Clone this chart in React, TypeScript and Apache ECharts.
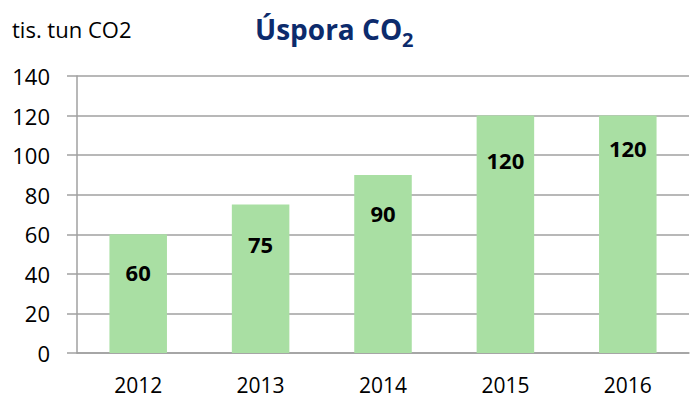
import React, { useEffect, useRef } from "react";
import * as echarts from "echarts";

const categories = ["2012", "2013", "2014", "2015", "2016"];
const savings = [60, 75, 90, 120, 120];
const yTicks = { min: 0, max: 140, interval: 20 };
const titleMain = "Úspora CO";
const titleSub = "2";
const unitLabel = "tis. tun CO2";

// label vertical offsets from bar top (style only)
const labelOffsetsY = [22, 23, 22, 28, 16];

const FONT = "'Open Sans', 'Noto Sans', sans-serif";

export default function App() {
  const ref = useRef<HTMLDivElement>(null);
  useEffect(() => {
    document.body.style.margin = "0";
    if (!ref.current) return;
    const chart = echarts.init(ref.current, undefined, { renderer: "svg" });
    chart.setOption({
      animation: false,
      backgroundColor: "#ffffff",
      grid: { left: 77, right: 1, top: 76, bottom: 47, containLabel: false },
      xAxis: {
        type: "category",
        data: categories,
        axisLine: { show: true, lineStyle: { color: "#a0a0a0", width: 1.5 } },
        axisTick: { show: false },
        axisLabel: { color: "#000", fontFamily: FONT, fontSize: 21, margin: 21 },
        splitLine: { show: false },
      },
      yAxis: {
        type: "value",
        min: yTicks.min,
        max: yTicks.max,
        interval: yTicks.interval,
        axisLine: { show: true, lineStyle: { color: "#a0a0a0", width: 1.5 } },
        axisTick: { show: true, length: 10, lineStyle: { color: "#a0a0a0", width: 1.5 } },
        axisLabel: { color: "#000", fontFamily: FONT, fontSize: 22, margin: 27 },
        splitLine: { show: true, lineStyle: { color: "#a0a0a0", width: 1.5 } },
      },
      graphic: [
        {
          type: "text",
          left: 12,
          top: 18,
          style: { text: unitLabel, fontFamily: FONT, fontSize: 22, fill: "#000" },
        },
        {
          type: "text",
          x: 255,
          y: 29,
          style: {
            text: titleMain,
            fontFamily: FONT,
            fontSize: 28,
            fontWeight: "bold",
            fill: "#0c2b6c",
            verticalAlign: "middle",
          },
        },
        {
          type: "text",
          x: 402,
          y: 39,
          style: {
            text: titleSub,
            fontFamily: FONT,
            fontSize: 20,
            fontWeight: "bold",
            fill: "#0c2b6c",
            verticalAlign: "middle",
          },
        },
      ],
      series: [
        {
          type: "bar",
          barWidth: "47%",
          itemStyle: { color: "#a9dfa3" },
          data: savings.map((v, i) => ({
            value: v,
            label: { offset: [0, labelOffsetsY[i]] },
          })),
          label: {
            show: true,
            position: "insideTop",
            distance: 5,
            color: "#000",
            fontFamily: FONT,
            fontSize: 22,
            fontWeight: "bold",
          },
        },
      ],
    });
    return () => chart.dispose();
  }, []);
  return <div ref={ref} style={{ width: 690, height: 400 }} />;
}
